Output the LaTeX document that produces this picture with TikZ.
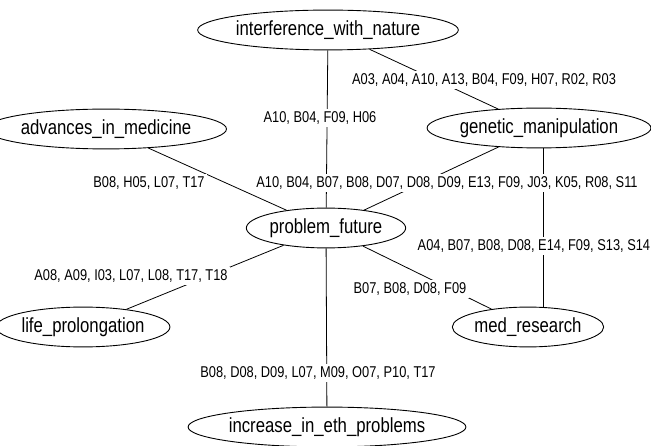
\documentclass[tikz,border=0pt]{standalone}
\usepackage{fontspec}
\setmainfont[FakeStretch=0.82]{Liberation Sans}
\usetikzlibrary{shapes.geometric}
\tikzset{
  topic/.style={draw, ellipse, line width=0.9bp, inner sep=0pt,
    minimum width=2*#1, minimum height=40, font=\fontsize{20.5}{20.5}\selectfont},
  codes/.style={fill=white, inner sep=2.5bp, font=\fontsize{15.7}{16}\selectfont},
  link/.style={line width=0.8bp},
}
\begin{document}
\begin{tikzpicture}[x=1bp, y=-1bp]
  \useasboundingbox (0,0) rectangle (651,446);

  % topic nodes
  \node[topic=110] (inter) at (328,30)  {interference\_with\_nature};
  \node[topic=96]  (gen)   at (539,128) {genetic\_manipulation};
  \node[topic=101] (adv)   at (106,129) {advances\_in\_medicine};
  \node[topic=69]  (pf)    at (326,228) {problem\_future};
  \node[topic=78]  (life)  at (83,327)  {life\_prolongation};
  \node[topic=56]  (med)   at (528,327) {med\_research};
  \node[topic=114] (inc)   at (327,427) {increase\_in\_eth\_problems};

  % connectors
  \draw[link] (inter) -- (pf);
  \draw[link] (inter) -- (gen);
  \draw[link] (adv) -- (pf);
  \draw[link] (gen) -- (pf);
  \draw[link] (gen.south -| 543,0) -- (med.north -| 543,0);
  \draw[link] (pf) -- (life);
  \draw[link] (pf) -- (med);
  \draw[link] (pf) -- (inc);

  % edge labels
  \node[codes] (c1) at (320,118) {A10, B04, F09, H06};
  \node[codes] (c2) at (484,80)  {A03, A04, A10, A13, B04, F09, H07, R02, R03};
  \node[codes] (c3) at (149,183) {B08, H05, L07, T17};
  \node[codes] (c4) at (447,183) {A10, B04, B07, B08, D07, D08, D09, E13, F09, J03, K05, R08, S11};
  \node[codes, anchor=west] (c5) at (415,246) {A04, B07, B08, D08, E14, F09, S13, S14};
  \node[codes] (c6) at (131,276) {A08, A09, I03, L07, L08, T17, T18};
  \node[codes] (c7) at (410,289) {B07, B08, D08, F09};
  \node[codes] (c8) at (318,373) {B08, D08, D09, L07, M09, O07, P10, T17};
\end{tikzpicture}
\end{document}
